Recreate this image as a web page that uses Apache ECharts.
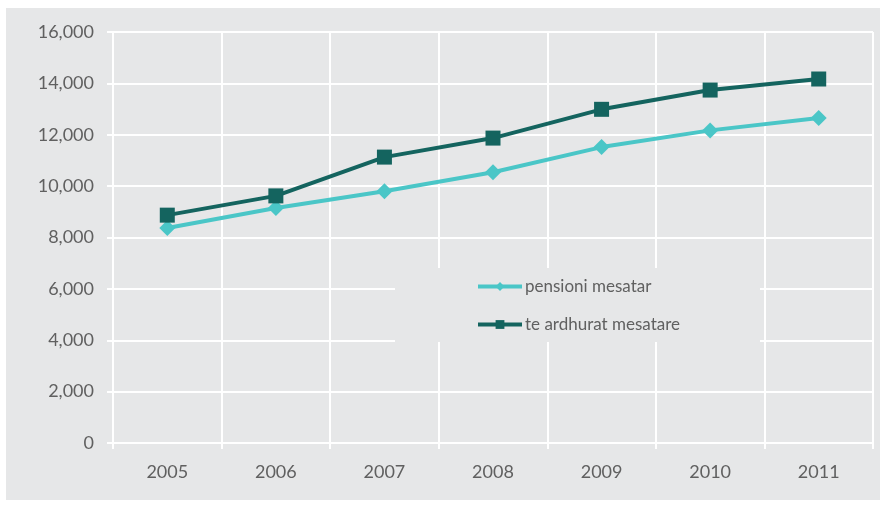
<!DOCTYPE html>
<html>
<head>
<meta charset="utf-8">
<script src="https://cdn.jsdelivr.net/npm/echarts@6/dist/echarts.min.js"></script>
<style>
  html, body { margin: 0; padding: 0; background: #fff; }
  #wrap { position: relative; width: 886px; height: 506px; }
  #bg { position: absolute; left: 6px; top: 8px; width: 874px; height: 492px; background: #e6e7e8; }
  #chart { position: absolute; left: 0; top: 0; width: 886px; height: 506px; }
</style>
</head>
<body>
<div id="wrap">
  <div id="bg"></div>
  <div id="chart"></div>
</div>
<script>
const years = ['2005', '2006', '2007', '2008', '2009', '2010', '2011']
const pensioniMesatar = [8370, 9150, 9800, 10540, 11520, 12170, 12650]
const teArdhuratMesatare = [8870, 9620, 11130, 11870, 12990, 13740, 14170]

const gridCol = '#ffffff'
const textCol = '#606060'
const font = 'Lato'

let chart = echarts.init(document.getElementById('chart'))
let option = {
    backgroundColor: 'transparent',
    animation: false,
    textStyle: { fontFamily: font },
    grid: { left: 113, top: 32, right: 13, bottom: 63 },
    graphic: [{
        type: 'rect',
        z: 5,
        shape: { x: 395, y: 268, width: 365, height: 74 },
        style: { fill: '#e6e7e8' }
    }],
    legend: {
        orient: 'vertical',
        left: 476,
        top: 278,
        padding: 0,
        z: 6,
        itemGap: 21,
        itemWidth: 44,
        itemHeight: 11,
        lineStyle: { width: 4 },
        textStyle: { color: textCol, fontSize: 17, fontFamily: font, padding: [0, 0, 0, -2] },
        data: ['pensioni mesatar', 'te ardhurat mesatare']
    },
    xAxis: {
        type: 'category',
        data: years,
        boundaryGap: true,
        axisLine: { show: true, lineStyle: { color: gridCol, width: 2 } },
        axisTick: { show: true, length: 6, lineStyle: { color: gridCol, width: 2 } },
        axisLabel: { color: textCol, fontSize: 18, margin: 20, fontFamily: font },
        splitLine: { show: true, lineStyle: { color: gridCol, width: 2 } }
    },
    yAxis: {
        type: 'value',
        min: 0,
        max: 16000,
        interval: 2000,
        axisLine: { show: true, lineStyle: { color: gridCol, width: 2 } },
        axisTick: { show: true, length: 6, lineStyle: { color: gridCol, width: 2 } },
        axisLabel: {
            color: textCol, fontSize: 18, margin: 19, fontFamily: font,
            formatter: v => v.toLocaleString('en-US')
        },
        splitLine: { show: true, lineStyle: { color: gridCol, width: 2 } }
    },
    series: [{
        name: 'pensioni mesatar',
        type: 'line',
        data: pensioniMesatar,
        symbol: 'diamond',
        symbolSize: 16,
        color: '#4ac6c7',
        lineStyle: { width: 4 }
    }, {
        name: 'te ardhurat mesatare',
        type: 'line',
        data: teArdhuratMesatare,
        symbol: 'rect',
        symbolSize: 15,
        color: '#14645f',
        lineStyle: { width: 4 }
    }]
}
chart.setOption(option)
</script>
</body>
</html>
